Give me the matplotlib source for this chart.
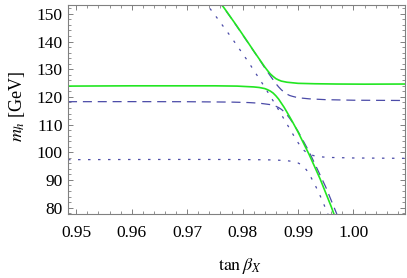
import matplotlib
matplotlib.use('Agg')
import matplotlib.pyplot as plt
from matplotlib.ticker import MultipleLocator, FormatStrFormatter

plt.rcParams['font.family'] = ['Liberation Serif', 'DejaVu Serif']
plt.rcParams['mathtext.fontset'] = 'stix'
plt.rcParams['lines.scale_dashes'] = False

# green (solid) pair
green_up_t = [0.975, 0.977, 0.979, 0.981, 0.982, 0.983, 0.984, 0.9845, 0.985, 0.9855,
              0.986, 0.9865, 0.987, 0.9875, 0.988, 0.989, 0.990, 0.993, 0.997, 1.002, 1.0095]
green_up_m = [156.7, 151.2, 145.5, 139.6, 136.6, 133.7, 130.8, 129.5, 128.3, 127.4,
              126.6, 126.1, 125.7, 125.5, 125.3, 125.1, 124.9, 124.75, 124.65, 124.6, 124.65]
green_lo_t = [0.9485, 0.960, 0.970, 0.975, 0.979, 0.981, 0.982, 0.983, 0.984, 0.9845,
              0.985, 0.9855, 0.986, 0.9865, 0.987, 0.9875, 0.988, 0.989, 0.990, 0.992,
              0.994, 0.996, 0.997]
green_lo_m = [123.9, 124.0, 124.0, 124.0, 123.9, 123.7, 123.6, 123.4, 123.0, 122.6,
              122.1, 121.4, 120.4, 119.2, 117.7, 116.2, 114.5, 111.0, 107.3, 99.2,
              90.3, 80.3, 74.8]

# dashed pair (steep upper part lies under the green line)
dash_up_t = [0.975, 0.978, 0.981, 0.983, 0.984, 0.985, 0.986, 0.9865, 0.987, 0.9875, 0.988,
             0.9885, 0.989, 0.990, 0.992, 0.995, 1.000, 1.0095]
dash_up_m = [156.6, 148.3, 139.5, 133.6, 130.5, 127.6, 124.8, 123.6, 122.55, 121.7, 121.0,
             120.5, 120.2, 119.7, 119.3, 119.0, 118.8, 118.7]
dash_lo_t = [0.9485, 0.960, 0.970, 0.978, 0.981, 0.983, 0.985, 0.986, 0.9865, 0.987,
             0.9875, 0.988, 0.9885, 0.989, 0.990, 0.992, 0.995, 0.997]
dash_lo_m = [118.27, 118.29, 118.26, 118.12, 117.96, 117.73, 117.21, 116.61, 116.14, 115.49,
             114.62, 113.54, 112.25, 110.8, 107.56, 100.19, 87.44, 77.65]

# dotted pair
dot_up_t = [0.973, 0.975, 0.978, 0.981, 0.984, 0.986, 0.988, 0.989, 0.990, 0.9905,
            0.991, 0.9915, 0.992, 0.993, 0.994, 0.995, 0.996, 1.000, 1.0095]
dot_up_m = [154.8, 149.6, 141.4, 132.75, 123.5, 116.97, 110.19, 106.76, 103.49, 102.04,
            100.82, 99.93, 99.32, 98.67, 98.36, 98.21, 98.11, 97.93, 97.8]
dot_lo_t = [0.9485, 0.960, 0.970, 0.978, 0.984, 0.986, 0.988, 0.989, 0.990, 0.9905,
            0.991, 0.9915, 0.992, 0.993, 0.994, 0.995, 0.996]
dot_lo_m = [97.32, 97.38, 97.4, 97.38, 97.28, 97.19, 96.95, 96.68, 96.13, 95.62,
            94.82, 93.67, 92.18, 88.49, 84.24, 79.59, 74.57]

blue = '#4b4ba8'
green = '#22e622'
frame = '#808080'

fig = plt.figure(figsize=(4.07, 2.78), dpi=100)
ax = fig.add_axes([0.1671, 0.2313, 0.828, 0.7507])

for t, m in [(dot_up_t, dot_up_m), (dot_lo_t, dot_lo_m)]:
    ax.plot(t, m, color=blue, lw=0.9, dashes=(1.8, 5.4))
for t, m in [(dash_up_t, dash_up_m), (dash_lo_t, dash_lo_m)]:
    ax.plot(t, m, color=blue, lw=0.9, dashes=(6.5, 4.2))
for t, m in [(green_up_t, green_up_m), (green_lo_t, green_lo_m)]:
    ax.plot(t, m, color=green, lw=1.2)

ax.set_xlim(0.9485, 1.0093)
ax.set_ylim(77.8, 153.2)

ax.xaxis.set_major_locator(MultipleLocator(0.01))
ax.xaxis.set_minor_locator(MultipleLocator(0.002))
ax.xaxis.set_major_formatter(FormatStrFormatter('%.2f'))
ax.yaxis.set_major_locator(MultipleLocator(10))
ax.yaxis.set_minor_locator(MultipleLocator(2))

for s in ax.spines.values():
    s.set_color(frame)
    s.set_linewidth(0.8)

ax.tick_params(which='both', direction='in', top=True, right=True, color=frame,
               labelsize=12.5, labelcolor='black')
ax.tick_params(which='major', length=3.4, width=0.7)
ax.tick_params(which='minor', length=2.0, width=0.6)
ax.tick_params(axis='x', pad=8)
ax.tick_params(axis='y', pad=4)

ax.set_xlabel(r'$\tan\beta_X$', fontsize=13, va='center')
ax.xaxis.set_label_coords(0.51, -0.25)
ax.set_ylabel(r'$m_h$ [GeV]', fontsize=13, va='center', ha='center')
ax.yaxis.set_label_coords(-0.151, 0.516)

fig.savefig('out.png', dpi=100)
